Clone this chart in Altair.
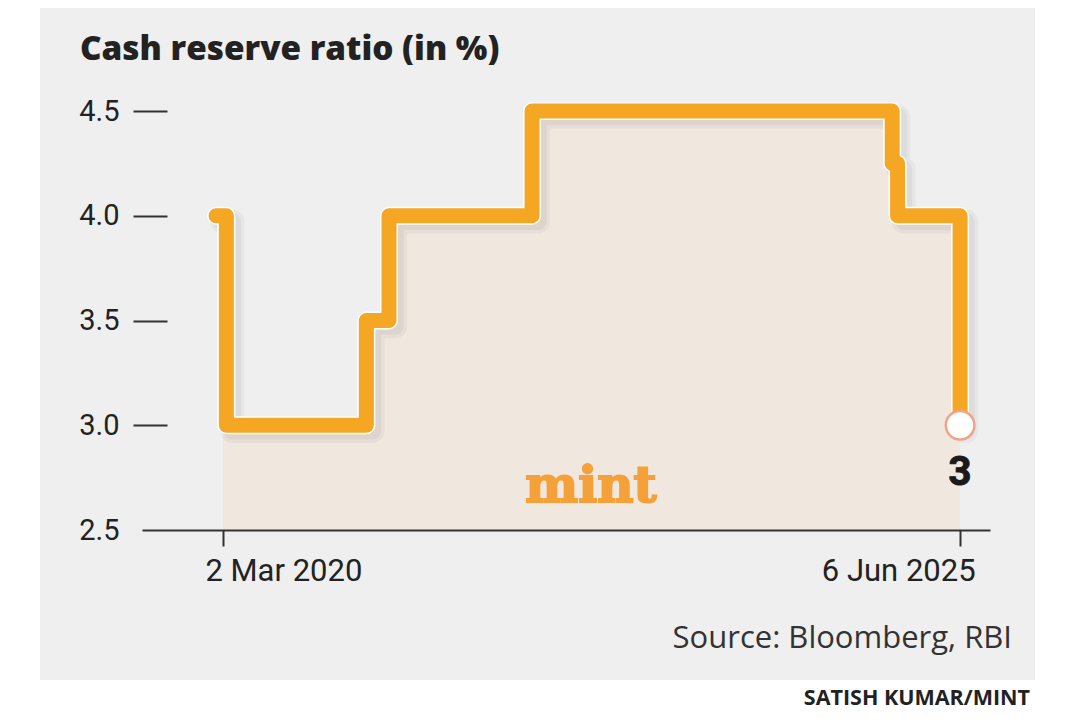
import altair as alt
import pandas as pd

# ---- data ----
dates = ["2020-02-13", "2020-03-11", "2021-03-11", "2021-05-09",
         "2022-05-17", "2024-12-11", "2024-12-25", "2025-06-06"]
crr = [4.0, 3.0, 3.5, 4.0, 4.5, 4.25, 4.0, 3.0]
x_tick_dates = [(2020, 3, 2), (2025, 6, 6)]
y_ticks = [2.5, 3.0, 3.5, 4.0, 4.5]
title_text = "Cash reserve ratio (in %)"
source_text = "Source: Bloomberg, RBI"
credit_text = "SATISH KUMAR/MINT"
logo_text = "mint"

df = pd.DataFrame({"date": dates, "crr": crr})

# area starts at the first axis date, with the step value in force on that day
start = "%04d-%02d-%02d" % x_tick_dates[0]
start_val = df[df["date"] <= start]["crr"].iloc[-1]
area_df = pd.concat([pd.DataFrame({"date": [start], "crr": [start_val]}),
                     df[df["date"] > start]], ignore_index=True)
last_df = df.tail(1)

ORANGE = "#f5a623"
INK = "#222222"

x_scale = alt.Scale(type="utc", domain=[
    alt.DateTime(year=2019, month=8, date=4, utc=True),
    alt.DateTime(year=2025, month=8, date=23, utc=True)])
y_scale = alt.Scale(domain=[y_ticks[0], y_ticks[-1]], nice=False, zero=False)

x_axis = alt.Axis(
    values=[alt.DateTime(year=y, month=m, date=d, utc=True) for (y, m, d) in x_tick_dates],
    format="%-d %b %Y", title=None, grid=False,
    domainColor="#333333", domainWidth=2,
    tickColor="#333333", tickWidth=2, tickSize=16,
    labelFont="Roboto", labelFontSize=31, labelColor=INK, labelPadding=10,
    labelLimit=0,
    labelAlign=alt.ExprRef(expr="datum.value < 1600000000000 ? 'left' : 'right'"),
    labelOffset=alt.ExprRef(expr="datum.value < 1600000000000 ? -18 : 15"),
    zindex=1)
y_axis = alt.Axis(
    values=y_ticks, format=".1f", title=None, grid=False, domain=False,
    offset=-25, tickSize=34, tickWidth=2, tickColor="#333333",
    tickOpacity=alt.ExprRef(expr="datum.value == 2.5 ? 0 : 1"),
    labelPadding=14, labelFont="Roboto", labelFontSize=29, labelColor=INK,
    zindex=1)

X = alt.X("date:T", scale=x_scale, axis=x_axis)
Y = alt.Y("crr:Q", scale=y_scale, axis=y_axis)

one = pd.DataFrame({"k": [0]})

panel = alt.Chart(one).mark_rect(color="#efefef").encode(
    x=alt.value(-102), x2=alt.value(893), y=alt.value(-103), y2=alt.value(569))

area = alt.Chart(area_df).mark_area(interpolate="step-after", color="#f0e8df").encode(
    x=X, y=Y, y2=alt.datum(y_ticks[0]))

def shadow_layer(width, opacity):
    return alt.Chart(df).transform_calculate(
        sd="time(toDate(datum.date)) + 16*86400000",
        sv="datum.crr - 0.028",
    ).mark_line(interpolate="step-after", color="black", opacity=opacity,
                strokeWidth=width, strokeJoin="round", strokeCap="round").encode(
        x=alt.X("sd:T", scale=x_scale, axis=x_axis),
        y=alt.Y("sv:Q", scale=y_scale, axis=y_axis))

shadow1 = shadow_layer(24, 0.035)
shadow2 = shadow_layer(17, 0.045)

outline = alt.Chart(df).mark_line(interpolate="step-after", color="white",
                                  strokeWidth=18, strokeJoin="round",
                                  strokeCap="round").encode(x=X, y=Y)
line = alt.Chart(df).mark_line(interpolate="step-after", color=ORANGE,
                               strokeWidth=15, strokeJoin="round",
                               strokeCap="round").encode(x=X, y=Y)

end_pt = alt.Chart(last_df).mark_point(shape="circle", filled=True, fill="white",
                                       stroke="#efa38a", strokeWidth=2.5,
                                       size=820, opacity=1).encode(x=X, y=Y)
end_lbl = alt.Chart(last_df).mark_text(dy=60, baseline="alphabetic", align="center",
                                       font="Roboto", fontWeight="bold",
                                       fontSize=40, color="#1a1a1a",
                                       stroke="#1a1a1a", strokeWidth=1).encode(
    x=X, y=Y, text=alt.Text("crr:Q", format="d"))

def label(txt, x, y, **kw):
    return alt.Chart(pd.DataFrame({"t": [txt]})).mark_text(baseline="alphabetic", **kw).encode(
        x=alt.value(x), y=alt.value(y), text="t:N")

title = label(title_text, -62, -51, align="left", font="Open Sans",
              fontWeight=800, fontSize=33.3, color=INK)
logo = label(logo_text, 449, 391, align="center", font="DejaVu Serif",
             fontWeight="bold", fontSize=50, color="#f5a13a",
             stroke="#f5a13a", strokeWidth=2)
source = label(source_text, 870, 537, align="right", font="Open Sans",
               fontSize=31, color="#333333")
credit = label(credit_text, 888, 594, align="right", font="Open Sans",
               fontWeight="bold", fontSize=21.5, color=INK)

chart = alt.layer(panel, area, shadow1, shadow2, outline, line, end_pt, end_lbl,
                  title, logo, source, credit).properties(
    width=848, height=419,
    padding={"left": 32, "top": 0, "right": 0, "bottom": 4},
    background="white",
).configure_view(stroke=None)

chart.save("out.html", embed_options={"renderer": "svg", "actions": False})
